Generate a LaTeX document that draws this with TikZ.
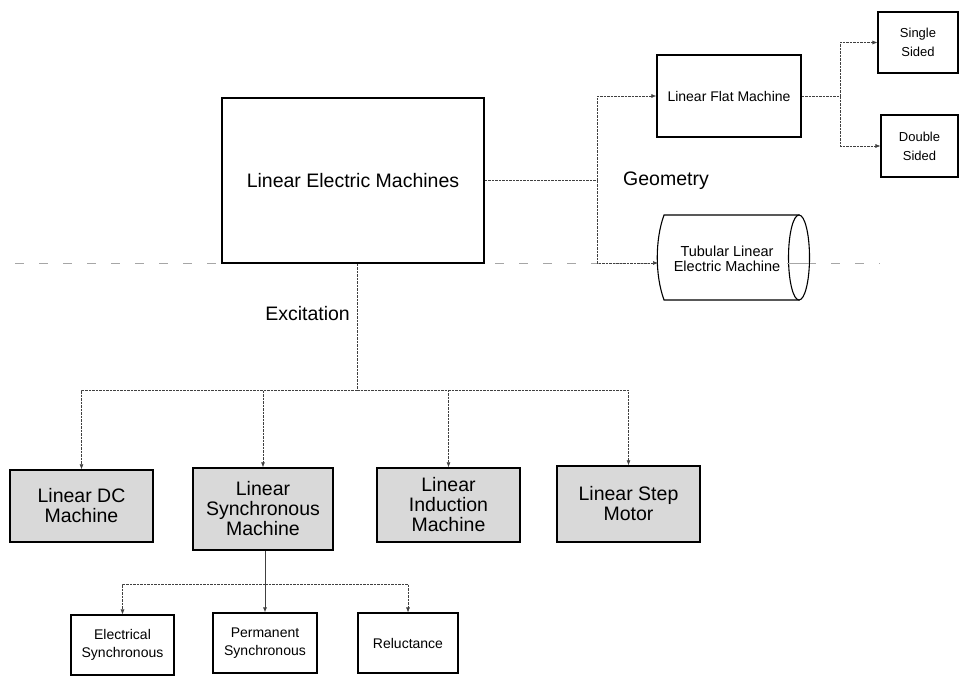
\documentclass[tikz,border=0pt]{standalone}
\usepackage{fontspec}
\setmainfont{Liberation Sans}
\usetikzlibrary{arrows.meta}
\begin{document}
\begin{tikzpicture}[x=1pt,y=-1pt,
  box/.style={draw=black, line width=1.1pt, fill=white, align=center, inner sep=0pt},
  bigbox/.style={box, line width=1.6pt, font=\fontsize{19.5}{23}\selectfont},
  shade/.style={box, line width=1.5pt, fill=gray!30, font=\fontsize{19.5}{20}\selectfont},
  small/.style={box, font=\fontsize{14}{18}\selectfont},
  tiny/.style={box, font=\fontsize{13}{19}\selectfont},
  conn/.style={draw=black!75, line width=0.6pt, dash pattern=on 2.5pt off 1pt},
  arr/.style={conn, -{Latex[length=5pt,width=4pt]}},
  lbl/.style={font=\fontsize{19.5}{23}\selectfont, inner sep=0pt}
]
\useasboundingbox (0,0) rectangle (960,677);

% faint dashed baseline
\draw[gray!70, line width=1pt, dash pattern=on 9pt off 15pt] (15,263) -- (880,263);

% main
\node[bigbox, minimum width=262pt, minimum height=165pt] (main) at (353,180.5) {Linear Electric Machines};

% geometry branch
\node[small, line width=1.3pt, minimum width=144pt, minimum height=82pt] (flat) at (729,96) {Linear Flat Machine};
\node[tiny, minimum width=80pt, minimum height=61pt] (single) at (918,42.5) {Single\\Sided};
\node[tiny, minimum width=77pt, minimum height=62pt] (double) at (919.5,146) {Double\\Sided};

% tubular cylinder
\draw[line width=1.1pt, fill=white] (664,215) -- (799,215) -- (799,300) -- (664,300)
  .. controls (655,275) and (655,240) .. (664,215) -- cycle;
\draw[line width=1.1pt, fill=white] (799,257.5) ellipse [x radius=10.5, y radius=42.5];
\draw[gray!70, line width=1pt] (787,263) -- (809,263);
\node[align=center, inner sep=0pt, font=\fontsize{14.5}{15}\selectfont] (tub) at (727,259) {Tubular Linear\\Electric Machine};
\coordinate (tubin) at (658,263);

\node[lbl, anchor=west] (geo) at (623,181) {Geometry};

\coordinate (gj) at (597,180.5);
\draw[conn] (main.east) -- (gj);
\draw[arr] (gj) |- (flat.west);
\draw[arr] (gj) |- (tubin);

\coordinate (sj) at (840,96);
\draw[conn] (flat.east) -- (sj);
\draw[arr] (sj) |- (single.west);
\draw[arr] (sj) |- (double.west);

% excitation branch
\node[shade, minimum width=143pt, minimum height=72pt] (dc) at (81.5,506) {Linear DC\\Machine};
\node[shade, minimum width=140pt, minimum height=82pt] (sync) at (263,509) {Linear\\Synchronous\\Machine};
\node[shade, minimum width=143pt, minimum height=74pt] (ind) at (448.5,505) {Linear\\Induction\\Machine};
\node[shade, minimum width=143pt, minimum height=76pt] (step) at (628.5,504) {Linear Step\\Motor};

\node[lbl, anchor=east] (exc) at (350,314) {Excitation};

\coordinate (ej) at (357,390);
\draw[conn] (main.south -| ej) -- (ej);
\draw[arr] (ej) -| (dc.north);
\draw[arr] (ej) -| (sync.north);
\draw[arr] (ej) -| (ind.north);
\draw[arr] (ej) -| (step.north);

% synchronous subtypes
\node[small, minimum width=103pt, minimum height=60pt] (elec) at (122.5,645) {Electrical\\Synchronous};
\node[small, minimum width=104pt, minimum height=60pt] (perm) at (265,643) {Permanent\\Synchronous};
\node[small, minimum width=100pt, minimum height=60pt] (rel) at (408,643) {Reluctance};

\coordinate (rj) at (265,584);
\draw[arr, solid, line width=0.8pt] (sync.south -| perm.north) -- (perm.north);
\draw[arr] (rj) -| (elec.north);
\draw[arr] (rj) -| (rel.north);
\end{tikzpicture}
\end{document}
